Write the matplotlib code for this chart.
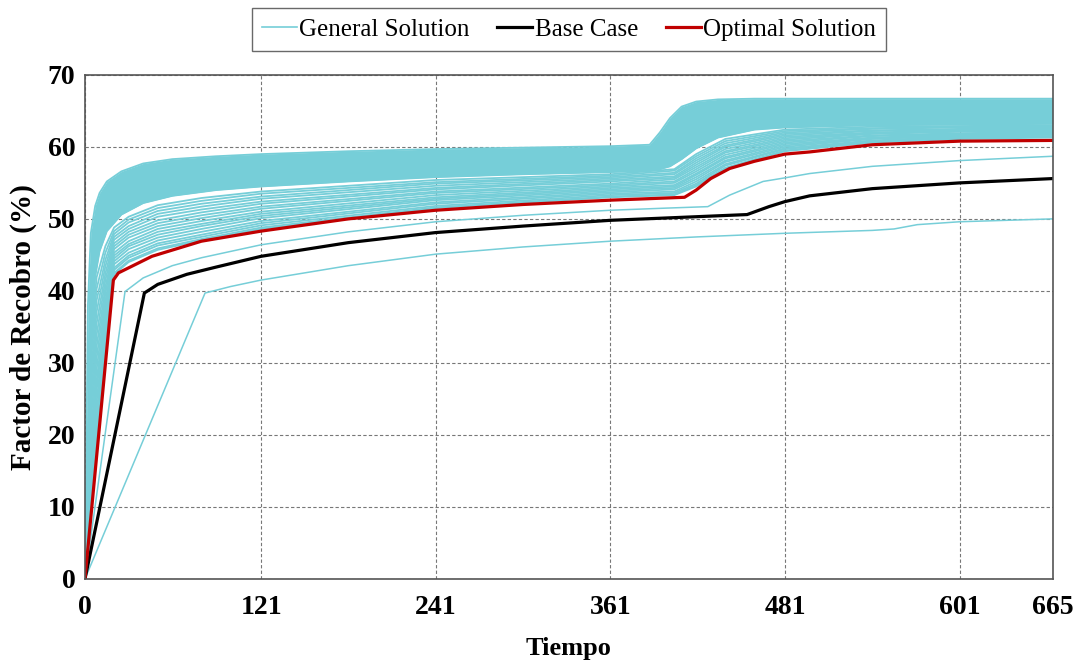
import matplotlib
matplotlib.use("Agg")
import matplotlib.pyplot as plt
from matplotlib.lines import Line2D

plt.rcParams['font.family'] = ['Liberation Serif', 'DejaVu Serif']

CYAN = '#76CED8'

# x ticks shown on the axis
x_ticks = [0, 121, 241, 361, 481, 601, 665]
y_ticks = [0, 10, 20, 30, 40, 50, 60, 70]

# ---- general solution: dense core (upper edge / lower edge of the solid band)
core_t = [0, 2, 4, 7, 10, 15, 25, 40, 60, 90, 121, 181, 241, 301, 361, 388, 395,
          402, 410, 420, 435, 460, 481, 541, 601, 665]
core_top = [0, 38, 48, 51.8, 53.6, 55.2, 56.6, 57.7, 58.3, 58.7, 59.0, 59.4, 59.7,
            59.9, 60.1, 60.3, 62.0, 64.0, 65.6, 66.3, 66.6, 66.7, 66.7, 66.7, 66.7, 66.7]
core_bottom = [0, 18, 34, 42, 45.5, 48.3, 50.6, 52.2, 53.2, 54.0, 54.5, 55.2, 55.8,
               56.2, 56.5, 56.7, 56.9, 57.3, 58.3, 59.8, 61.3, 62.4, 62.7, 63.0, 63.1, 63.2]

# ---- general solution: individual runs below the dense core
gen_t = [0, 4, 8, 14, 20, 30, 50, 80, 121, 241, 361, 405, 420, 440, 481, 541, 601, 665]
gen_runs = [
    [0, 9.0, 18.0, 32.0, 42.3, 44.0, 45.7, 47.0, 48.6, 51.5, 53.0, 53.3, 54.5, 57.0, 59.4, 60.6, 61.1, 61.3],
    [0, 9.8, 18.8, 32.5, 42.5, 44.2, 45.9, 47.2, 48.8, 51.6, 53.1, 53.4, 54.7, 57.1, 59.5, 60.7, 61.2, 61.4],
    [0, 11.2, 20.1, 33.3, 42.9, 44.6, 46.3, 47.5, 49.1, 51.8, 53.3, 53.6, 54.9, 57.4, 59.7, 60.8, 61.3, 61.5],
    [0, 12.5, 21.4, 34.1, 43.2, 44.9, 46.6, 47.8, 49.4, 52.1, 53.5, 53.8, 55.2, 57.6, 59.8, 60.9, 61.4, 61.5],
    [0, 14.1, 23.0, 35.0, 43.7, 45.3, 47.0, 48.2, 49.7, 52.3, 53.7, 54.1, 55.5, 57.9, 60.0, 61.1, 61.5, 61.7],
    [0, 15.8, 24.6, 36.0, 44.1, 45.8, 47.4, 48.6, 50.1, 52.6, 53.9, 54.3, 55.8, 58.1, 60.2, 61.2, 61.6, 61.8],
    [0, 17.4, 26.2, 36.9, 44.5, 46.2, 47.8, 49.0, 50.4, 52.8, 54.1, 54.5, 56.1, 58.4, 60.4, 61.3, 61.7, 61.9],
    [0, 18.7, 27.5, 37.7, 44.9, 46.5, 48.2, 49.3, 50.7, 53.0, 54.3, 54.7, 56.3, 58.6, 60.6, 61.5, 61.8, 62.0],
    [0, 20.3, 29.1, 38.6, 45.3, 46.9, 48.6, 49.7, 51.0, 53.3, 54.5, 55.0, 56.6, 58.9, 60.8, 61.6, 61.9, 62.1],
    [0, 22.0, 30.7, 39.6, 45.8, 47.4, 49.0, 50.1, 51.4, 53.6, 54.7, 55.2, 56.9, 59.2, 61.0, 61.8, 62.1, 62.2],
    [0, 23.6, 32.3, 40.5, 46.2, 47.8, 49.4, 50.5, 51.7, 53.8, 54.9, 55.5, 57.2, 59.4, 61.2, 61.9, 62.2, 62.3],
    [0, 25.2, 33.9, 41.5, 46.6, 48.2, 49.8, 50.9, 52.1, 54.1, 55.2, 55.7, 57.5, 59.7, 61.4, 62.0, 62.3, 62.4],
    [0, 26.8, 35.5, 42.4, 47.1, 48.6, 50.3, 51.3, 52.4, 54.3, 55.4, 55.9, 57.8, 60.0, 61.6, 62.2, 62.4, 62.6],
    [0, 28.4, 37.1, 43.4, 47.5, 49.0, 50.7, 51.7, 52.8, 54.6, 55.6, 56.2, 58.1, 60.2, 61.8, 62.3, 62.5, 62.7],
    [0, 30.1, 38.7, 44.3, 47.9, 49.5, 51.1, 52.1, 53.1, 54.9, 55.8, 56.4, 58.4, 60.5, 62.0, 62.5, 62.7, 62.8],
    [0, 31.7, 40.3, 45.3, 48.3, 49.9, 51.5, 52.5, 53.5, 55.1, 56.0, 56.7, 58.7, 60.8, 62.2, 62.6, 62.8, 62.9],
    [0, 33.3, 41.9, 46.2, 48.8, 50.3, 51.9, 52.9, 53.8, 55.4, 56.2, 56.9, 59.0, 61.1, 62.4, 62.8, 62.9, 63.0],
]

# two general-solution runs that sit below the optimal one
low_a_t = [0, 27.5, 40, 60, 80, 121, 181, 241, 301, 361, 400, 428, 443, 466, 481, 498, 541, 601, 665]
low_a_y = [0, 39.9, 41.8, 43.5, 44.6, 46.4, 48.2, 49.6, 50.5, 51.2, 51.5, 51.7, 53.3, 55.2, 55.7,
           56.3, 57.3, 58.1, 58.7]
low_b_t = [0, 82.5, 100, 121, 181, 241, 301, 361, 421, 481, 541, 556, 572, 601, 665]
low_b_y = [0, 39.7, 40.6, 41.5, 43.5, 45.1, 46.1, 46.9, 47.5, 48.0, 48.4, 48.6, 49.2, 49.6, 50.0]

# base case
base_t = [0, 40.8, 50, 70, 90, 121, 181, 241, 301, 361, 420, 455, 470, 481, 498, 541, 601, 665]
base_y = [0, 39.7, 40.9, 42.3, 43.3, 44.8, 46.7, 48.1, 49.0, 49.8, 50.3, 50.6, 51.7, 52.4, 53.2,
          54.2, 55.0, 55.6]

# optimal solution
opt_t = [0, 19.5, 23, 46, 80, 121, 181, 241, 301, 361, 412, 420, 430, 443, 460, 481, 498, 541,
         601, 665]
opt_y = [0, 41.5, 42.5, 44.8, 46.9, 48.3, 50.0, 51.2, 52.0, 52.6, 53.0, 54.0, 55.6, 57.0, 58.0,
         59.0, 59.3, 60.3, 60.8, 60.9]

fig = plt.figure(figsize=(10.8, 6.63), dpi=100)
ax = fig.add_axes([0.0787, 0.127, 0.896, 0.760])

ax.fill_between(core_t, core_bottom, core_top, color=CYAN, lw=0)
ax.plot(core_t, core_top, color=CYAN, lw=1.3)
ax.plot(core_t, core_bottom, color=CYAN, lw=1.3)
for run in gen_runs:
    ax.plot(gen_t, run, color=CYAN, lw=1.3)
ax.plot(low_a_t, low_a_y, color=CYAN, lw=1.1)
ax.plot(low_b_t, low_b_y, color=CYAN, lw=1.1)

ax.plot(base_t, base_y, color='black', lw=2.3)
ax.plot(opt_t, opt_y, color='#C00000', lw=2.3)

ax.set_xlim(0, 665)
ax.set_ylim(0, 70)
ax.set_xticks(x_ticks)
ax.set_yticks(y_ticks)
ax.grid(True, color='#777777', linestyle='--', linewidth=0.8, dashes=(3, 2))
ax.set_axisbelow(True)
for s in ax.spines.values():
    s.set_color('#555555')
    s.set_linewidth(1.2)
ax.tick_params(axis='x', length=0, pad=12)
ax.tick_params(axis='y', length=0, pad=7)
for lab in ax.get_xticklabels() + ax.get_yticklabels():
    lab.set_fontweight('bold')
    lab.set_fontsize(20)

ax.set_xlabel('Tiempo', fontsize=19, fontweight='bold', labelpad=12)
ax.set_ylabel('Factor de Recobro (%)', fontsize=21, fontweight='bold', labelpad=8)

handles = [Line2D([], [], color=CYAN, lw=1.2),
           Line2D([], [], color='black', lw=2.3),
           Line2D([], [], color='#C00000', lw=2.3)]
labels = ['General Solution', 'Base Case', 'Optimal Solution']
leg = ax.legend(handles, labels, loc='lower center', bbox_to_anchor=(0.5, 1.023), ncol=3,
                fontsize=18, frameon=True, fancybox=False, handlelength=1.4,
                handletextpad=0.1, columnspacing=1.1, borderpad=0.4)
leg.get_frame().set_edgecolor('#444444')
leg.get_frame().set_linewidth(1.0)

fig.savefig('out.png', dpi=100)
